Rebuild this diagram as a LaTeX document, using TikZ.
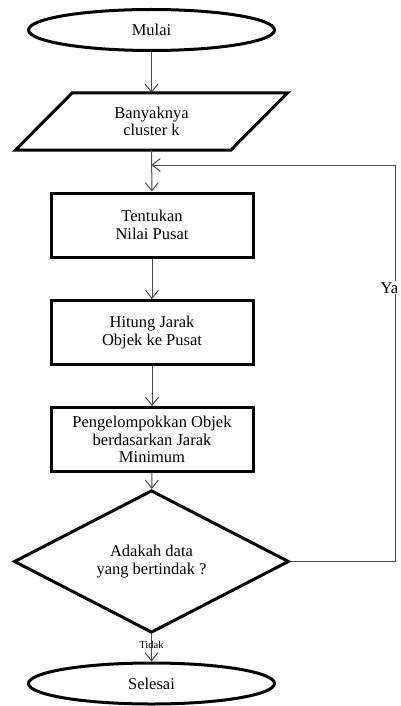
\documentclass[tikz,border=0pt]{standalone}
\usepackage{fontspec}
\setmainfont{Liberation Serif}
\usetikzlibrary{shapes.geometric,arrows.meta,calc}
\begin{document}
\begin{tikzpicture}[x=1pt,y=1pt,
  every node/.style={font=\fontsize{16.5}{17.5}\selectfont, align=center},
  term/.style={ellipse, draw, line width=3pt, minimum width=246, minimum height=41, inner sep=0},
  proc/.style={rectangle, draw, line width=3pt, minimum width=202, minimum height=64, inner sep=0},
  dec/.style={diamond, draw, line width=3pt, minimum width=275, minimum height=95, inner sep=0},
  conn/.style={draw=black!70, line width=1pt, -{Straight Barb[length=8pt,width=13pt]}},
  lbl/.style={font=\fontsize{10.5}{11}\selectfont, inner sep=0}
]
\useasboundingbox[fill=white] (0,0) rectangle (400,-706);
\node[term] (mulai) at (151.5,-30) {Mulai};
\node[minimum width=215, minimum height=57, inner sep=0] (inp) at (151.5,-121.5) {Banyaknya\\cluster k};
\draw[line width=3pt, line join=miter]
  ($(inp.north west)+(28.5,0)$) -- ($(inp.north east)+(28.5,0)$) --
  ($(inp.south east)+(-28.5,0)$) -- ($(inp.south west)+(-28.5,0)$) -- cycle;
\node[proc] (pusat) at (152,-225) {Tentukan\\Nilai Pusat};
\node[proc] (jarak) at (152,-332.5) {Hitung Jarak\\Objek ke Pusat};
\node[proc] (kelompok) at (152,-439.5) {Pengelompokkan Objek\\berdasarkan Jarak\\Minimum};
\node[dec] (cek) at (151.5,-561.5) {Adakah data\\yang bertindak ?};
\node[term] (selesai) at (151.5,-683.5) {Selesai};
\coordinate (join) at (151.5,-165);
\coordinate (rc) at (395,-165);

\draw[conn] (mulai) -- (inp.south |- inp.north);
\draw[conn] (inp) -- (pusat);
\draw[conn] (pusat) -- (jarak);
\draw[conn] (jarak) -- (kelompok);
\draw[conn] (kelompok) -- (cek);
\draw[conn] (cek) -- node[lbl, pos=0.38] (tidak) {Tidak} (selesai);
\draw[conn] (cek.east) -- (cek.east -| rc) -- node[fill=white, inner sep=1pt, pos=0.69, xshift=-5.5pt] (ya) {Ya} (rc) -- (join);
\end{tikzpicture}
\end{document}
